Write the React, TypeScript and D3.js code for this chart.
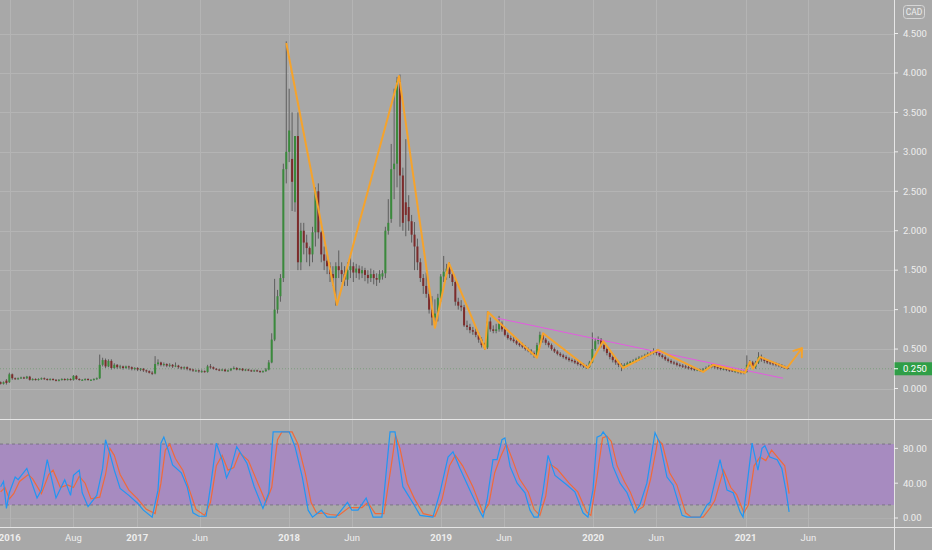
import React from 'react';
import * as d3 from 'd3';

// weekly bars [open, high, low, close], first bar = week of 2016-02-08
const bars2016: number[][] = [
  [0.08,0.09,0.05,0.06],[0.06,0.09,0.05,0.08],[0.10,0.12,0.05,0.07],[0.08,0.20,0.07,0.18],[0.18,0.19,0.11,0.13],
  [0.13,0.14,0.11,0.12],[0.12,0.14,0.11,0.13],[0.13,0.15,0.12,0.14],[0.14,0.15,0.12,0.13],[0.13,0.16,0.12,0.15],
  [0.15,0.16,0.10,0.11],[0.11,0.13,0.10,0.12],[0.12,0.13,0.10,0.11],[0.11,0.13,0.10,0.12],[0.12,0.14,0.11,0.13],
  [0.13,0.14,0.11,0.12],[0.12,0.13,0.10,0.11],[0.11,0.13,0.10,0.12],[0.12,0.13,0.10,0.11],[0.11,0.12,0.09,0.10],
  [0.10,0.12,0.09,0.11],[0.11,0.13,0.10,0.12],[0.12,0.13,0.10,0.11],[0.11,0.13,0.10,0.12],[0.12,0.13,0.10,0.11],
  [0.11,0.17,0.10,0.16],[0.16,0.17,0.11,0.12],[0.12,0.13,0.10,0.11],[0.11,0.12,0.10,0.11],[0.11,0.13,0.10,0.12],
  [0.12,0.13,0.10,0.11],[0.11,0.12,0.10,0.11],[0.11,0.13,0.10,0.12],[0.12,0.14,0.11,0.13],[0.13,0.43,0.12,0.30],
  [0.30,0.39,0.28,0.36],[0.36,0.38,0.26,0.28],[0.28,0.37,0.27,0.35],[0.35,0.37,0.24,0.26],[0.26,0.32,0.25,0.30],
  [0.30,0.31,0.25,0.27],[0.27,0.30,0.25,0.28],[0.28,0.29,0.24,0.26],[0.26,0.29,0.25,0.28],[0.28,0.29,0.24,0.27],
  [0.27,0.28,0.23,0.25],[0.25,0.27,0.23,0.26],
];
const bars2017: number[][] = [
  [0.26,0.27,0.22,0.24],[0.24,0.26,0.22,0.25],[0.25,0.26,0.21,0.23],[0.23,0.24,0.20,0.22],[0.22,0.23,0.19,0.20],
  [0.20,0.22,0.17,0.19],[0.19,0.41,0.18,0.31],[0.31,0.37,0.29,0.33],[0.33,0.34,0.28,0.30],[0.30,0.33,0.28,0.31],
  [0.31,0.32,0.27,0.29],[0.29,0.32,0.27,0.30],[0.30,0.31,0.26,0.28],[0.28,0.33,0.27,0.29],[0.29,0.30,0.25,0.27],
  [0.27,0.28,0.24,0.26],[0.26,0.28,0.24,0.27],[0.27,0.28,0.23,0.25],[0.25,0.26,0.22,0.24],[0.24,0.25,0.21,0.23],
  [0.23,0.24,0.21,0.23],[0.23,0.24,0.20,0.22],[0.22,0.24,0.20,0.22],[0.22,0.23,0.20,0.21],[0.21,0.30,0.20,0.28],
  [0.28,0.31,0.25,0.27],[0.27,0.28,0.24,0.25],[0.25,0.26,0.23,0.24],[0.24,0.25,0.22,0.23],[0.23,0.25,0.22,0.24],
  [0.24,0.25,0.21,0.22],[0.22,0.24,0.21,0.23],[0.23,0.26,0.22,0.25],[0.25,0.28,0.24,0.26],[0.26,0.27,0.23,0.24],
  [0.24,0.26,0.23,0.25],[0.25,0.26,0.22,0.23],[0.23,0.25,0.22,0.24],[0.24,0.25,0.22,0.23],[0.23,0.24,0.21,0.22],
  [0.22,0.24,0.21,0.23],[0.23,0.24,0.21,0.22],[0.22,0.23,0.20,0.21],[0.21,0.23,0.20,0.22],[0.22,0.26,0.21,0.24],
  [0.24,0.36,0.23,0.33],[0.33,0.70,0.32,0.62],[0.62,1.39,0.60,1.00],[1.00,1.25,0.95,1.17],[1.17,1.45,1.10,1.40],
  [1.40,2.85,1.35,2.78],[2.78,4.40,2.60,3.00],
];
const bars2018: number[][] = [
  [3.00,3.80,2.87,3.27],[2.91,3.50,2.25,2.62],[2.36,3.20,2.24,3.20],[3.20,3.50,1.50,1.60],[1.60,2.10,1.50,2.00],
  [2.00,2.10,1.70,1.85],[1.85,1.95,1.60,1.78],[1.78,1.80,1.55,1.70],[1.70,2.05,1.60,1.98],[1.98,2.55,1.80,2.50],
  [2.50,2.60,1.90,1.98],[1.98,2.00,1.60,1.70],[1.70,1.80,1.50,1.62],[1.62,1.70,1.45,1.55],[1.55,1.60,1.35,1.45],
  [1.45,1.55,1.30,1.40],[1.40,1.60,1.05,1.55],[1.55,1.75,1.40,1.50],[1.50,1.60,1.35,1.45],[1.45,1.55,1.30,1.38],
  [1.38,1.60,1.30,1.50],[1.50,1.65,1.40,1.55],[1.55,1.60,1.35,1.47],[1.47,1.58,1.40,1.52],[1.52,1.56,1.38,1.46],
  [1.46,1.55,1.40,1.50],[1.50,1.53,1.36,1.44],[1.44,1.50,1.33,1.40],[1.40,1.52,1.35,1.45],[1.45,1.50,1.32,1.40],
  [1.40,1.46,1.30,1.38],[1.38,1.50,1.34,1.45],[1.42,1.50,1.38,1.46],[1.46,2.05,1.40,2.00],[2.00,2.40,1.95,2.10],
  [2.15,3.10,2.10,2.78],[2.78,3.80,2.40,2.85],[2.85,3.95,2.55,3.90],[3.90,3.98,2.05,2.70],[2.70,2.80,2.00,2.10],
  [2.36,3.16,1.93,2.20],[2.30,2.45,2.00,2.12],[2.12,2.20,1.85,1.95],[1.95,2.11,1.50,1.80],[1.80,1.90,1.50,1.60],
  [1.60,1.65,1.35,1.40],[1.40,1.45,1.20,1.30],[1.30,1.47,1.15,1.20],[1.20,1.28,0.95,1.00],[1.00,1.17,0.80,0.90],
  [0.90,1.13,0.77,0.95],[0.95,1.20,0.85,1.15],
];
const bars2019: number[][] = [
  [1.15,1.45,1.10,1.42],[1.42,1.68,1.35,1.48],[1.48,1.58,1.38,1.52],[1.52,1.60,1.40,1.45],[1.45,1.50,1.30,1.35],
  [1.35,1.38,1.05,1.10],[1.10,1.15,1.00,1.05],[1.05,1.12,0.98,1.03],[1.03,1.06,0.78,0.80],[0.80,0.86,0.74,0.78],
  [0.78,0.82,0.70,0.74],[0.74,0.78,0.68,0.72],[0.72,0.76,0.65,0.68],[0.68,0.71,0.58,0.62],[0.62,0.65,0.52,0.55],
  [0.55,0.58,0.49,0.52],[0.52,0.98,0.50,0.85],[0.85,0.90,0.72,0.75],[0.75,0.80,0.70,0.73],[0.73,0.82,0.70,0.75],
  [0.75,0.92,0.72,0.82],[0.82,0.85,0.72,0.75],[0.75,0.78,0.66,0.68],[0.68,0.71,0.62,0.64],[0.64,0.67,0.60,0.62],
  [0.62,0.65,0.58,0.60],[0.60,0.62,0.55,0.57],[0.57,0.60,0.53,0.55],[0.55,0.58,0.51,0.53],[0.53,0.55,0.48,0.50],
  [0.50,0.52,0.46,0.48],[0.48,0.50,0.43,0.45],[0.45,0.47,0.39,0.42],[0.42,0.58,0.40,0.55],[0.55,0.72,0.53,0.68],
  [0.68,0.70,0.58,0.62],[0.62,0.64,0.55,0.58],[0.58,0.60,0.52,0.55],[0.55,0.57,0.48,0.50],[0.50,0.52,0.45,0.47],
  [0.47,0.49,0.42,0.44],[0.44,0.46,0.40,0.42],[0.42,0.44,0.38,0.40],[0.40,0.42,0.36,0.38],[0.38,0.40,0.34,0.36],
  [0.36,0.38,0.33,0.35],[0.35,0.37,0.31,0.33],[0.33,0.35,0.29,0.31],[0.31,0.33,0.28,0.30],[0.30,0.32,0.26,0.28],
  [0.28,0.30,0.25,0.27],[0.27,0.35,0.26,0.33],
];
const bars2020: number[][] = [
  [0.33,0.71,0.32,0.50],[0.50,0.64,0.48,0.60],[0.60,0.66,0.56,0.62],[0.62,0.64,0.52,0.55],[0.55,0.57,0.47,0.50],
  [0.50,0.52,0.42,0.45],[0.45,0.47,0.37,0.40],[0.40,0.42,0.33,0.36],[0.36,0.38,0.30,0.33],[0.33,0.35,0.27,0.30],
  [0.30,0.32,0.22,0.28],[0.28,0.32,0.26,0.30],[0.30,0.34,0.28,0.32],[0.32,0.35,0.30,0.34],[0.34,0.37,0.32,0.35],
  [0.35,0.39,0.33,0.37],[0.37,0.41,0.35,0.39],[0.39,0.42,0.37,0.40],[0.40,0.44,0.38,0.42],[0.42,0.46,0.40,0.44],
  [0.44,0.47,0.42,0.45],[0.45,0.51,0.43,0.47],[0.47,0.49,0.42,0.45],[0.45,0.47,0.40,0.42],[0.42,0.44,0.38,0.40],
  [0.40,0.42,0.35,0.37],[0.37,0.39,0.33,0.35],[0.35,0.37,0.31,0.33],[0.33,0.35,0.30,0.32],[0.32,0.34,0.28,0.30],
  [0.30,0.32,0.27,0.29],[0.29,0.31,0.26,0.28],[0.28,0.30,0.25,0.27],[0.27,0.29,0.24,0.26],[0.26,0.28,0.23,0.25],
  [0.25,0.27,0.22,0.24],[0.24,0.26,0.22,0.24],[0.24,0.25,0.21,0.23],[0.23,0.26,0.21,0.24],[0.24,0.28,0.23,0.26],
  [0.26,0.30,0.25,0.28],[0.28,0.31,0.26,0.29],[0.29,0.30,0.25,0.27],[0.27,0.29,0.24,0.26],[0.26,0.28,0.23,0.25],
  [0.25,0.27,0.23,0.25],[0.25,0.26,0.22,0.24],[0.24,0.26,0.21,0.23],[0.23,0.25,0.21,0.22],[0.22,0.24,0.20,0.22],
  [0.22,0.23,0.19,0.21],[0.21,0.23,0.18,0.20],[0.20,0.23,0.18,0.21],
];
const bars2021: number[][] = [
  [0.21,0.42,0.20,0.30],[0.30,0.36,0.28,0.33],[0.33,0.35,0.25,0.27],[0.27,0.35,0.25,0.33],[0.33,0.46,0.31,0.40],
  [0.40,0.43,0.34,0.37],[0.37,0.39,0.32,0.35],[0.35,0.37,0.31,0.33],[0.33,0.35,0.30,0.32],[0.32,0.34,0.29,0.31],
  [0.31,0.33,0.28,0.30],[0.30,0.32,0.27,0.29],[0.29,0.31,0.26,0.27],[0.27,0.29,0.25,0.26],[0.26,0.28,0.24,0.25],
];

// Stoch RSI, [week, value]
const stochK: number[][] = [
  [0,36],[1,42],[2,11],[3,29],[5,47],[6,44],[9,57],[12.5,23],[14,32],[16,67],[19,23],[22,44],[24,26],[25,49],[27,55],
  [28,29],[30,13],[33,26],[35,57],[36,90],[37.5,74],[39,55],[41,34],[44,26],[47,17],[49,9],[52,1],[54,32],[55,86],
  [56,93],[57.5,78],[59,61],[62,52],[64,36],[66,6],[68,2],[70.5,2],[72,36],[74,86],[76,67],[77.5,46],[79,57],[81,82],
  [84.5,63],[87,36],[90,11],[92,29],[93.5,99],[95,99],[99,99],[101,82],[103.5,47],[105.5,9],[107,1],[110,9],[112,1],
  [115,1],[119,18],[120.5,9],[122.6,9],[125.4,23],[127.8,1],[130.8,1],[133.6,99],[135.3,99],[138,36],[141.5,17],
  [143.9,3],[148.3,1],[150.7,29],[153.5,70],[155.2,76],[157.6,57],[161,32],[164.5,7],[165.5,1],[166.9,21],[168.9,67],
  [170.3,67],[172,90],[173,92],[174.8,59],[177.2,40],[179.9,29],[181.6,9],[183,1],[184.4,1],[186,29],[187.8,72],
  [190.2,49],[194.3,38],[197,30],[199.8,6],[201.5,1],[203.2,32],[204.6,93],[206,95],[206.7,99],[208,93],[210.1,59],
  [212.5,40],[214.9,29],[217.6,6],[219.3,15],[221.7,40],[224.5,98],[226.2,86],[228.6,47],[230.7,38],[233.8,3],
  [235.5,1],[240,1],[242.3,15],[243.4,18],[246.8,67],[249.2,32],[251.3,29],[253.7,7],[254.7,1],[256,36],[257.8,86],
  [259.8,55],[261.2,80],[262.2,83],[263.9,70],[266.4,67],[268,57],[269.4,32],[270.5,7],
];
const stochD: number[][] = [
  [0,30],[1.5,35],[3,22],[4.5,28],[6.5,42],[9.5,50],[11,45],[14,28],[16.5,50],[18,55],[20.5,35],[23,38],[25,35],
  [27,48],[29,40],[31,22],[34,24],[36,50],[37.5,80],[39,72],[41,50],[44,32],[47,22],[50,10],[53,5],[55,40],[56.5,78],
  [58,85],[60,68],[62.5,55],[65,30],[67,10],[70,3],[72,18],[74,60],[76,72],[78,55],[80,58],[82,75],[85,66],[88,42],
  [91,18],[93,35],[95,90],[96.5,99],[100,99],[102,85],[104.5,52],[106.5,18],[108.5,5],[111,6],[113,4],[116,3],
  [119.5,12],[121.5,12],[124,12],[126,18],[128.5,5],[131.5,5],[134,60],[135.5,95],[137,80],[139.5,40],[142,22],
  [145,5],[149,2],[151.5,22],[154,60],[156,72],[158.5,60],[162,36],[165.5,6],[167.5,16],[169.5,52],[171.5,70],
  [173.5,85],[175.5,68],[178,45],[181,30],[183,10],[185,3],[187,25],[188.5,62],[191,56],[195,40],[198,30],[201,7],
  [202.5,3],[204.5,45],[206.5,92],[208,94],[209.5,88],[211.5,60],[214,42],[216,30],[218.5,9],[220.5,13],[223,45],
  [225.5,90],[227,85],[229.5,52],[232,38],[235,6],[237,1],[241,1],[243.5,12],[245,20],[248,55],[250.5,35],
  [252.5,27],[255,6],[256.5,15],[258.5,60],[260.5,70],[262.5,66],[264.5,78],[267,68],[269,60],[270.5,28],
];

// hand-drawn zigzag, [week, price]
const zigzag: number[][] = [
  [98,4.38],[115.4,1.06],[136.7,3.96],[149,0.77],[153.8,1.59],[166.2,0.5],[167.2,0.97],[184,0.39],[186.1,0.7],
  [201.5,0.26],[206.7,0.6],[213.5,0.26],[225.5,0.49],[241,0.21],[244.4,0.3],[255.4,0.2],[257.1,0.34],[258.1,0.25],
  [260.5,0.4],[269.8,0.26],[274.9,0.51],
];
const trendLine: number[][] = [[170.6,0.89],[268.4,0.13]];

const priceTicks = [0, 0.5, 1, 1.5, 2, 2.5, 3, 3.5, 4, 4.5];
const stochTicks = [0, 40, 80];
const bandLevels = [15, 85];
const lastPrice = 0.25;
const timeTicks: [string, string, boolean][] = [
  ['2016-03-01', '2016', true], ['2016-08-01', 'Aug', false], ['2017-01-01', '2017', true],
  ['2017-06-01', 'Jun', false], ['2018-01-01', '2018', true], ['2018-06-01', 'Jun', false],
  ['2019-01-01', '2019', true], ['2019-06-01', 'Jun', false], ['2020-01-01', '2020', true],
  ['2020-06-01', 'Jun', false], ['2021-01-01', '2021', true], ['2021-06-01', 'Jun', false],
];

const W = 932, H = 550;
const AXIS_X = 894;
const SEP_Y = 419.5;
const BOT_Y = 527.5;
const BG = '#a8a8a8';
const GRID = '#b4b4b4';
const TXT = '#eeeeee';
const FONT = 'Roboto, "DejaVu Sans", sans-serif';

const START = Date.UTC(2016, 1, 8);
const weekDate = (w: number) => new Date(START + w * 7 * 864e5);

const x = d3.scaleUtc().domain([weekDate(0), weekDate(270)]).range([0.6, 787.65]);
const xw = (w: number) => x(weekDate(w));
const yP = d3.scaleLinear().domain([0, 4.5]).range([388.5, 33.5]);
const yS = d3.scaleLinear().domain([0, 100]).range([518, 431]);

const bars = [...bars2016, ...bars2017, ...bars2018, ...bars2019, ...bars2020, ...bars2021];

export default function App() {
  const priceLine = d3.line<number[]>().x(d => xw(d[0])).y(d => yP(d[1]));
  const stochLine = d3.line<number[]>().x(d => xw(d[0])).y(d => yS(d[1]));

  const n = zigzag.length;
  const tip = [xw(zigzag[n - 1][0]), yP(zigzag[n - 1][1])];
  const prev = [xw(zigzag[n - 2][0]), yP(zigzag[n - 2][1])];
  const ang = Math.atan2(tip[1] - prev[1], tip[0] - prev[0]);
  const head = [ang + Math.PI * 0.8, ang - Math.PI * 0.8].map(a => [tip[0] + 9 * Math.cos(a), tip[1] + 9 * Math.sin(a)]);

  return (
    <div style={{ position: 'fixed', left: 0, top: 0 }}>
      <svg width={W} height={H} style={{ display: 'block', fontFamily: FONT }}>
        <defs>
          <clipPath id="pricePane"><rect x={0} y={0} width={AXIS_X} height={SEP_Y} /></clipPath>
          <clipPath id="stochPane"><rect x={0} y={SEP_Y} width={AXIS_X} height={BOT_Y - SEP_Y} /></clipPath>
        </defs>
        <rect width={W} height={H} fill={BG} />

        {/* grid */}
        {priceTicks.map(t => (
          <line key={'pg' + t} x1={0} x2={AXIS_X} y1={Math.round(yP(t)) + 0.5} y2={Math.round(yP(t)) + 0.5} stroke={GRID} />
        ))}
        {stochTicks.map(t => (
          <line key={'sg' + t} x1={0} x2={AXIS_X} y1={Math.round(yS(t)) + 0.5} y2={Math.round(yS(t)) + 0.5} stroke={GRID} opacity={0.6} />
        ))}
        {timeTicks.map(([d, l]) => {
          const xx = Math.round(x(new Date(d))) + 0.5;
          return <line key={'tg' + d} x1={xx} x2={xx} y1={0} y2={BOT_Y} stroke={GRID} />;
        })}

        {/* price pane */}
        <g clipPath="url(#pricePane)">
          <line x1={0} x2={AXIS_X} y1={yP(lastPrice)} y2={yP(lastPrice)} stroke="#7c9c7e" strokeDasharray="1 2" />
          {bars.map((b, i) => {
            const [o, h, l, c] = b;
            const cx = xw(i);
            const up = c >= o;
            const top = yP(Math.max(o, c));
            const bh = Math.max(1, yP(Math.min(o, c)) - top);
            return (
              <g key={i}>
                <line x1={cx} x2={cx} y1={yP(h)} y2={yP(l)} stroke="#5e5e5e" strokeWidth={1} />
                <rect x={cx - 1} y={top} width={2} height={bh} fill={up ? '#3a8a3c' : '#7c2b2b'} />
              </g>
            );
          })}
          <path d={priceLine(trendLine) || ''} fill="none" stroke="#e35ae0" strokeWidth={1} />
          <path d={priceLine(zigzag) || ''} fill="none" stroke="#f5a32c" strokeWidth={2} strokeLinejoin="round" />
          {head.map((p, i) => (
            <line key={'ah' + i} x1={tip[0]} y1={tip[1]} x2={p[0]} y2={p[1]} stroke="#f5a32c" strokeWidth={2} strokeLinecap="round" />
          ))}
        </g>

        {/* stoch RSI pane */}
        <g clipPath="url(#stochPane)">
          <rect x={0} y={yS(bandLevels[1])} width={AXIS_X} height={yS(bandLevels[0]) - yS(bandLevels[1])} fill="#a78bc0" />
          {bandLevels.map(v => (
            <line key={'bl' + v} x1={0} x2={AXIS_X} y1={yS(v)} y2={yS(v)} stroke="#7b7486" strokeDasharray="3 3" />
          ))}
          <path d={stochLine(stochD) || ''} fill="none" stroke="#f06a3a" strokeWidth={1.2} />
          <path d={stochLine(stochK) || ''} fill="none" stroke="#2196f3" strokeWidth={1.2} />
        </g>

        {/* separators and axis border */}
        <line x1={0} x2={W} y1={SEP_Y} y2={SEP_Y} stroke="#e6e6e6" />
        <line x1={0} x2={W} y1={BOT_Y} y2={BOT_Y} stroke="#e6e6e6" />
        <line x1={AXIS_X + 0.5} x2={AXIS_X + 0.5} y1={0} y2={H} stroke="#e6e6e6" />

        {/* price axis */}
        {priceTicks.map(t => (
          <g key={'pl' + t}>
            <line x1={AXIS_X} x2={AXIS_X + 4} y1={yP(t)} y2={yP(t)} stroke={TXT} />
            <text x={903} y={yP(t)} dy="0.35em" fontSize={9.5} fill={TXT}>{t.toFixed(3)}</text>
          </g>
        ))}
        <rect x={AXIS_X + 0.5} y={yP(lastPrice) - 6.5} width={W - AXIS_X} height={13} fill="#2f9e47" />
        <line x1={AXIS_X} x2={AXIS_X + 4} y1={yP(lastPrice)} y2={yP(lastPrice)} stroke="#ffffff" />
        <text x={903} y={yP(lastPrice)} dy="0.35em" fontSize={9.5} fill="#ffffff">{lastPrice.toFixed(3)}</text>

        <rect x={903.5} y={5.5} width={21} height={13} rx={3} fill="none" stroke="#d6d6d6" />
        <text x={914} y={12} dy="0.35em" fontSize={8.5} fill={TXT} textAnchor="middle">CAD</text>

        {/* stoch axis */}
        {stochTicks.map(t => (
          <g key={'sl' + t}>
            <line x1={AXIS_X} x2={AXIS_X + 4} y1={yS(t)} y2={yS(t)} stroke={TXT} />
            <text x={903} y={yS(t)} dy="0.35em" fontSize={9.5} fill={TXT}>{t.toFixed(2)}</text>
          </g>
        ))}

        {/* time axis */}
        {timeTicks.map(([d, l, bold]) => (
          <text key={'tl' + d} x={x(new Date(d))} y={538} dy="0.35em" fontSize={9.5} fill={TXT}
            textAnchor="middle" fontWeight={bold ? 700 : 400}>{l}</text>
        ))}
      </svg>
    </div>
  );
}
